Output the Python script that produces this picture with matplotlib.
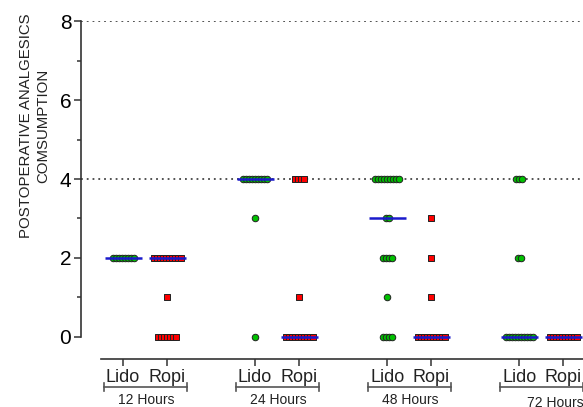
import matplotlib
matplotlib.use("Agg")
import matplotlib.pyplot as plt
import numpy as np

plt.rcParams["font.family"] = ["Liberation Sans", "DejaVu Sans"]

# raw scores per group
lido_12h = [2, 2, 2, 2, 2, 2, 2, 2]
ropi_12h = [2, 2, 2, 2, 2, 2, 2, 2, 2, 2, 1, 0, 0, 0, 0, 0, 0, 0]
lido_24h = [4, 4, 4, 4, 4, 4, 4, 4, 4, 3, 0]
ropi_24h = [4, 4, 4, 4, 1, 0, 0, 0, 0, 0, 0, 0, 0, 0, 0]
lido_48h = [4, 4, 4, 4, 4, 4, 4, 4, 4, 3, 3, 2, 2, 2, 2, 1, 0, 0, 0, 0]
ropi_48h = [3, 2, 1, 0, 0, 0, 0, 0, 0, 0, 0, 0, 0]
lido_72h = [4, 4, 4, 2, 2, 0, 0, 0, 0, 0, 0, 0, 0, 0, 0]
ropi_72h = [0, 0, 0, 0, 0, 0, 0, 0, 0, 0]

groups = [lido_12h, ropi_12h, lido_24h, ropi_24h,
          lido_48h, ropi_48h, lido_72h, ropi_72h]
positions = [0, 1, 3, 4, 6, 7, 9, 10]
tick_labels = ["Lido", "Ropi"] * 4
time_labels = ["12 Hours", "24 Hours", "48 Hours", "72 Hours"]

GREEN = "#00c000"
RED = "#ff0000"
STEP = 0.068

fig = plt.figure(figsize=(5.83, 4.07), dpi=100)
ax = fig.add_axes([0.139, 0.118, 0.861, 0.830])

for i, (vals, pos) in enumerate(zip(groups, positions)):
    vals = np.array(vals)
    is_lido = i % 2 == 0
    for v in np.unique(vals):
        n = np.sum(vals == v)
        xs = pos + (np.arange(n) - (n - 1) / 2) * STEP
        ax.scatter(xs, [v] * n, s=22,
                   marker="o" if is_lido else "s",
                   facecolor=GREEN if is_lido else RED,
                   edgecolor="#222222", linewidth=0.7, zorder=3,
                   clip_on=False)
    med = np.median(vals)
    ax.plot([pos - 0.42, pos + 0.42], [med, med], color="#1a1acc",
            lw=1.8, zorder=4, solid_capstyle="butt")

for y in (4, 8):
    ax.axhline(y, color="#444444", ls=(0, (1, 2.2)), lw=1.3, zorder=1)

ax.set_xlim(-0.955, 10.45)
ax.set_ylim(-0.56, 8)

for side in ("top", "right"):
    ax.spines[side].set_visible(False)
ax.spines["left"].set_bounds(0, 8)
ax.spines["bottom"].set_bounds(-0.5, 10.45)
for side in ("left", "bottom"):
    ax.spines[side].set_color("#333333")
    ax.spines[side].set_linewidth(1.2)

ax.set_yticks([0, 2, 4, 6, 8])
ax.set_yticks([1, 3, 5, 7], minor=True)
ax.tick_params(axis="y", which="major", length=5, width=1.1, color="#333333",
               labelsize=15, pad=2)
ax.tick_params(axis="y", which="minor", length=3, width=1.1, color="#333333")
ax.set_xticks(positions)
ax.set_xticklabels(tick_labels)
ax.tick_params(axis="x", length=5, width=1.1, color="#333333",
               labelsize=13, pad=2, labelcolor="#222222")

ax.set_ylabel("POSTOPERATIVE ANALGESICS\nCOMSUMPTION", fontsize=10.8,
              color="#222222", linespacing=1.25)
ax.yaxis.set_label_coords(-0.062, 0.69)

trans = ax.get_xaxis_transform()
for k, label in enumerate(time_labels):
    x0 = positions[2 * k] - 0.43
    x1 = positions[2 * k] + 1.46
    ax.plot([x0, x1], [-0.083, -0.083], transform=trans, color="#555555",
            lw=1.2, clip_on=False)
    for xe in (x0, x1):
        ax.plot([xe, xe], [-0.071, -0.095], transform=trans,
                color="#555555", lw=1.2, clip_on=False)
    if k < 3:
        ax.text(positions[2 * k] + 0.52, -0.121, label, transform=trans,
                ha="center", va="center", fontsize=10, color="#222222")
    else:
        ax.text(positions[2 * k] + 0.82, -0.13, label, transform=trans,
                ha="center", va="center", fontsize=10, color="#222222")

fig.savefig("out.png", dpi=100)
